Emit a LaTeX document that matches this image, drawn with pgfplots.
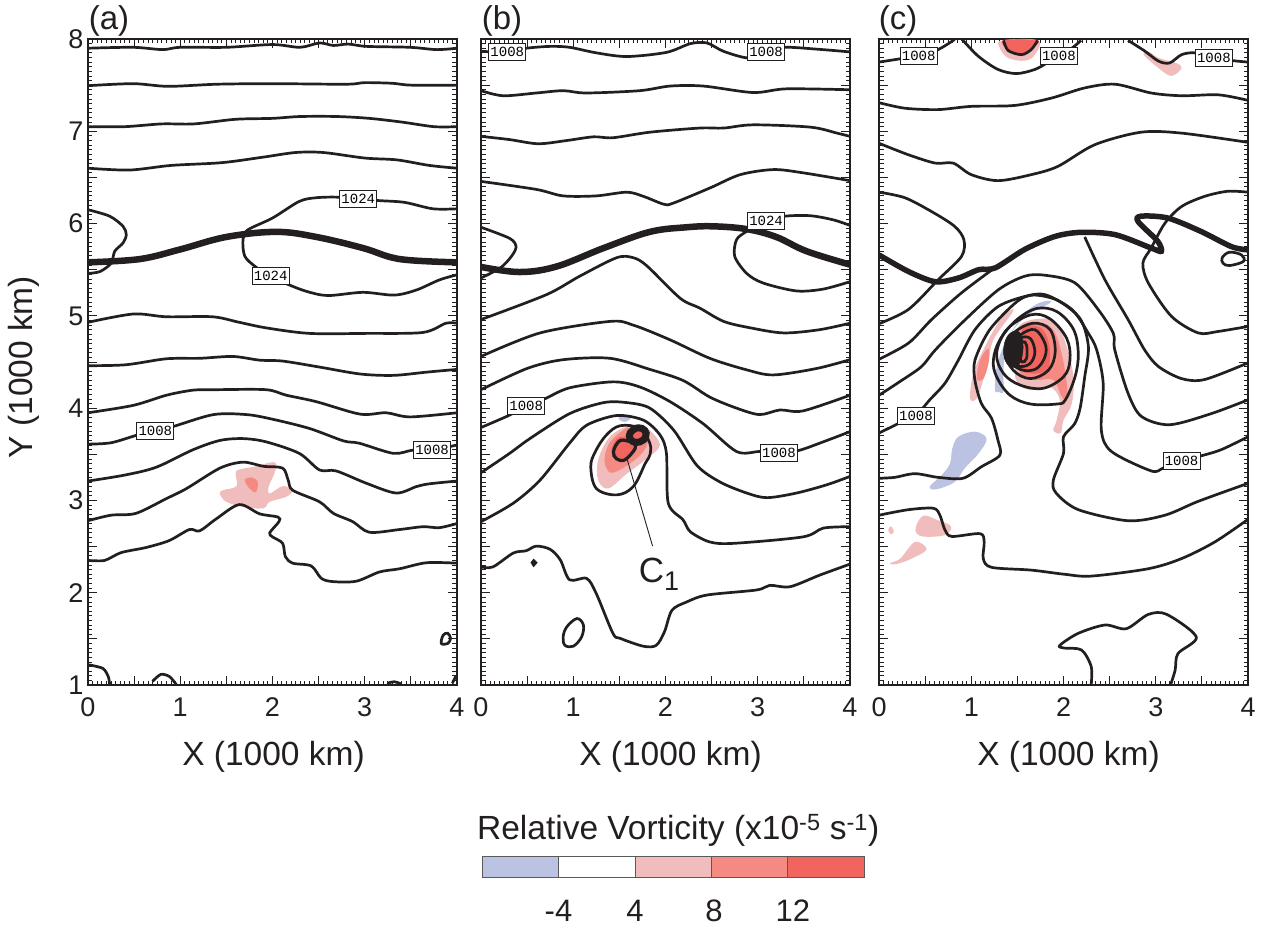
\documentclass[border=0pt]{standalone}
\usepackage{fontspec}
\setmainfont{Liberation Sans}
\newfontfamily\labfont{Liberation Mono}
\usepackage{pgfplots}
\pgfplotsset{compat=1.18}
\definecolor{k}{HTML}{231F20}
\definecolor{cb}{HTML}{BBC2E2}
\definecolor{cl}{HTML}{F1BCBC}
\definecolor{cm}{HTML}{F58A83}
\definecolor{cd}{HTML}{F2645E}
\tikzset{
  ct/.style={k,line width=2.7pt,smooth,tension=.5},
  ctc/.style={k,line width=2.7pt,smooth cycle,tension=.6},
  tk/.style={k,line width=6.5pt,smooth,tension=.6},
  fl/.style={fill=#1,draw=none,smooth cycle,tension=.6},
  lb/.style={draw=k,line width=.8pt,fill=white,inner sep=0pt,minimum width=37pt,minimum height=17pt,font=\labfont\fontsize{14}{15}\selectfont},
}
\pgfplotsset{
  panel/.style={
    scale only axis,width=369pt,height=646pt,
    xmin=0,xmax=4,ymin=1,ymax=8,
    axis line style={k,line width=1.3pt},
    tick style={k,line width=.8pt},
    major tick length=9pt,minor tick length=4.5pt,
    xtick={0,0.5,...,4},ytick={1,1.5,...,8},
    minor x tick num=9,minor y tick num=9,
    xticklabels={0,{},1,{},2,{},3,{},4},
    tick align=inside,
    tick label style={font=\fontsize{27}{30}\selectfont,text=k},
    xticklabel style={yshift=-9pt},
    yticklabel style={xshift=-1pt},
    xlabel={X (1000 km)},
    label style={font=\fontsize{33.5}{36}\selectfont,text=k},
    xlabel style={at={(axis description cs:0.5,0)},anchor=center,yshift=-72pt},
    clip=true,
  }
}
\begin{document}
\begin{tikzpicture}[x=1pt,y=1pt]
\path[use as bounding box] (0,0) rectangle (1263,927);

%======== (a)
\begin{axis}[panel,at={(88pt,242pt)},anchor=south west,
  xlabel style={xshift=1pt},
  yticklabels={1,{},2,{},3,{},4,{},5,{},6,{},7,{},8},
  ylabel={Y (1000 km)},ylabel style={at={(axis description cs:-0.173,0.492)},anchor=center}]
\addplot[fl=cl] coordinates {(1.43,3.07)(1.46,3.11)(1.61,3.155)(1.60,3.29)(1.64,3.335)(1.825,3.37)(1.97,3.41)(2.04,3.40)(2.02,3.29)(1.96,3.155)(1.97,3.075)(2.11,3.155)(2.215,3.11)(2.15,3.04)(1.97,2.985)(1.9,2.915)(1.68,2.93)(1.5,2.985)};
\addplot[fl=cm] coordinates {(1.70,3.22)(1.77,3.25)(1.84,3.20)(1.82,3.09)(1.75,3.13)};
\addplot[ct] coordinates {(0,7.9)(.49,7.91)(.81,7.885)(1,7.91)(1.5,7.91)(2,7.94)(2.3,7.91)(2.51,7.957)(2.66,7.93)(2.82,7.945)(3.02,7.92)(3.49,7.91)(3.78,7.885)(4,7.9)};
\addplot[ct] coordinates {(0,7.494)(.49,7.516)(.87,7.487)(1.4,7.51)(2,7.516)(2.8,7.51)(3,7.527)(3.3,7.52)(3.5,7.5)(4,7.5)};
\addplot[ct] coordinates {(0,7.05)(.4,7.05)(.8,7.08)(1.15,7.08)(1.6,7.13)(2,7.14)(2.3,7.16)(2.7,7.16)(3.05,7.14)(3.4,7.1)(3.75,7.05)(4,7.05)};
\addplot[ct] coordinates {(0,6.6)(.45,6.58)(.9,6.63)(1.45,6.66)(1.9,6.72)(2.25,6.77)(2.55,6.77)(3,6.71)(3.35,6.69)(3.7,6.63)(4,6.6)};
\addplot[ct] coordinates {(4,6.16)(3.74,6.16)(3.43,6.23)(3.14,6.25)(2.73,6.285)(2.475,6.28)(2.29,6.24)(2,6.06)(1.73,5.93)(1.68,5.825)(1.70,5.645)(1.825,5.525)(1.98,5.43)(2.17,5.34)(2.37,5.265)(2.6,5.22)(2.98,5.255)(3.32,5.225)(3.56,5.28)(3.81,5.39)(4,5.445)};
\addplot[ct] coordinates {(0,6.15)(.235,6.08)(.38,5.97)(.415,5.88)(.38,5.79)(.29,5.70)(.25,5.57)(.13,5.48)(0,5.46)};
\addplot[tk] coordinates {(0,5.58)(.56,5.615)(1,5.72)(1.5,5.855)(2.04,5.91)(2.475,5.855)(2.98,5.735)(3.38,5.615)(4,5.58)};
\addplot[ct] coordinates {(0,4.93)(.49,5.02)(.85,4.99)(1.35,4.99)(1.64,4.93)(1.93,4.87)(2.4,4.81)(3.02,4.81)(3.63,4.82)(3.88,4.92)(4,4.92)};
\addplot[ct] coordinates {(0,4.46)(.41,4.47)(.85,4.535)(1.21,4.54)(1.57,4.56)(1.86,4.52)(2.11,4.51)(2.51,4.445)(2.95,4.37)(3.31,4.355)(3.67,4.39)(4,4.42)};
\addplot[ct] coordinates {(0,3.95)(.49,4.03)(.85,4.14)(1.14,4.195)(1.39,4.2)(1.93,4.2)(2.15,4.14)(2.475,4.07)(2.95,3.935)(3.23,3.95)(3.49,3.905)(4,3.95)};
\addplot[ct] coordinates {(0,3.61)(.25,3.625)(.54,3.71)(.73,3.755)(.92,3.80)(1.36,3.93)(1.72,3.93)(2,3.88)(2.4,3.78)(2.77,3.645)(2.94,3.62)(3.31,3.51)(3.52,3.545)(3.73,3.55)(4,3.6)};
\addplot[ct] coordinates {(0,3.21)(.4,3.275)(.74,3.36)(1.14,3.55)(1.43,3.65)(1.68,3.67)(1.93,3.635)(2.29,3.51)(2.51,3.33)(2.69,3.32)(3.02,3.185)(3.34,3.08)(3.56,3.15)(3.7,3.18)(4,3.21)};
\addplot[ct] coordinates {(0,2.78)(.25,2.84)(.52,2.86)(.85,3.02)(1.07,3.13)(1.43,3.35)(1.68,3.415)(1.9,3.37)(2.11,3.35)(2.17,3.22)(2.22,3.11)(2.51,2.985)(2.66,2.86)(2.87,2.77)(3.05,2.655)(3.38,2.685)(3.63,2.715)(3.81,2.705)(4,2.75)};
\addplot[ct] coordinates {(0,2.35)(.18,2.35)(.36,2.435)(.63,2.49)(.88,2.565)(1.10,2.685)(1.21,2.67)(1.39,2.80)(1.64,2.955)(1.86,2.855)(2.06,2.82)(2.07,2.77)(1.97,2.65)(2.0,2.605)(2.11,2.535)(2.14,2.39)(2.22,2.32)(2.42,2.29)(2.53,2.155)(2.66,2.12)(2.91,2.125)(3.16,2.225)(3.38,2.26)(3.67,2.325)(4,2.32)};
\addplot[ctc] coordinates {(3.83,1.45)(3.85,1.54)(3.90,1.56)(3.93,1.505)(3.90,1.45)};
\addplot[ct] coordinates {(0,1.22)(.16,1.18)(.22,1.09)(.235,1.0)};
\addplot[ct] coordinates {(.70,1.04)(.79,1.115)(.885,1.09)(.96,1.0)};
\addplot[ct] coordinates {(3.25,1.02)(3.32,1.035)(3.40,1.01)};
\addplot[ct] coordinates {(3.95,1.02)(3.99,1.1)};
\node[lb] at (axis cs:2.93,6.27) {1024};
\node[lb] at (axis cs:1.98,5.43) {1024};
\node[lb] at (axis cs:.73,3.755) {1008};
\node[lb] at (axis cs:3.73,3.55) {1008};
\end{axis}

%======== (b)
\begin{axis}[panel,at={(481pt,242pt)},anchor=south west,xlabel style={xshift=5pt},yticklabels={}]
\addplot[fl=cb] coordinates {(1.49,3.89)(1.55,3.915)(1.62,3.89)(1.555,3.85)};
\addplot[fl=cl] coordinates {(1.525,3.78)(1.38,3.67)(1.27,3.44)(1.27,3.22)(1.38,3.13)(1.58,3.29)(1.80,3.455)(1.94,3.60)(1.83,3.76)(1.72,3.815)(1.615,3.80)};
\addplot[fl=cm] coordinates {(1.54,3.76)(1.40,3.635)(1.34,3.47)(1.36,3.35)(1.43,3.30)(1.615,3.40)(1.76,3.53)(1.81,3.67)(1.74,3.80)(1.615,3.79)};
\addplot[fl=cd] coordinates {(1.47,3.67)(1.415,3.545)(1.47,3.44)(1.615,3.48)(1.69,3.60)(1.65,3.67)(1.54,3.69)};
\addplot[ct] coordinates {(0,7.866)(.28,7.86)(.49,7.90)(.75,7.92)(.96,7.91)(1.25,7.85)(1.58,7.81)(2.01,7.855)(2.27,7.95)(2.45,7.957)(2.63,7.866)(2.9,7.794)(3.09,7.86)(3.29,7.91)(3.64,7.89)(4,7.86)};
\addplot[ct] coordinates {(0,7.44)(.24,7.385)(.6,7.415)(.89,7.44)(1.14,7.415)(1.72,7.44)(2.05,7.49)(2.41,7.49)(2.95,7.42)(3.31,7.46)(4,7.45)};
\addplot[ct] coordinates {(0,6.945)(.31,6.91)(.62,6.865)(.93,6.90)(1.22,6.94)(1.43,6.93)(1.83,6.99)(2.37,7.035)(2.63,7.035)(2.95,7.07)(3.57,7.045)(3.86,6.98)(4,6.945)};
\addplot[ct] coordinates {(0,6.457)(.6,6.37)(.89,6.30)(1.25,6.30)(1.58,6.34)(1.76,6.295)(1.98,6.21)(2.08,6.22)(2.48,6.385)(2.81,6.53)(3.17,6.585)(3.49,6.55)(4,6.465)};
\addplot[ct] coordinates {(4,5.98)(3.82,6.04)(3.57,6.085)(3.295,6.08)(3.09,6.03)(2.88,5.915)(2.77,5.825)(2.75,5.645)(2.88,5.46)(3.06,5.355)(3.42,5.27)(3.71,5.29)(4,5.37)};
\addplot[ct] coordinates {(0,5.96)(.31,5.84)(.38,5.75)(.33,5.645)(.21,5.52)(0,5.41)};
\addplot[tk] coordinates {(0,5.53)(.42,5.475)(.82,5.535)(1.33,5.735)(1.83,5.91)(2.23,5.96)(2.52,5.97)(2.88,5.94)(3.2,5.855)(3.53,5.70)(4,5.555)};
\addplot[ct] coordinates {(0,4.96)(.71,5.23)(1.07,5.43)(1.47,5.63)(1.65,5.63)(1.8,5.54)(2.16,5.19)(2.37,5.085)(2.63,4.94)(2.92,4.87)(3.28,4.815)(3.67,4.85)(4,4.92)};
\addplot[ct] coordinates {(0,4.56)(.64,4.815)(1.4,4.94)(1.65,4.90)(2.05,4.74)(2.48,4.54)(2.88,4.415)(3.17,4.36)(3.64,4.43)(4,4.525)};
\addplot[ct] coordinates {(0,4.2)(.5,4.43)(.89,4.525)(1.4,4.54)(1.83,4.42)(2.19,4.30)(2.48,4.12)(2.77,4.0)(3.02,3.93)(3.24,3.98)(3.49,3.97)(4,4.14)};
\addplot[ct] coordinates {(0,3.79)(.30,3.92)(.49,4.02)(.69,4.10)(.96,4.22)(1.43,4.285)(1.72,4.23)(2.05,4.07)(2.41,3.83)(2.77,3.53)(3.02,3.53)(3.23,3.52)(3.44,3.54)(3.71,3.635)(4,3.745)};
\addplot[ct] coordinates {(0,3.30)(.31,3.51)(.53,3.67)(.96,3.94)(1.33,4.06)(1.58,4.06)(1.83,4.0)(2.09,3.76)(2.34,3.38)(2.59,3.20)(2.88,3.08)(3.1,3.03)(3.42,3.08)(3.75,3.17)(4,3.26)};
\addplot[ct] coordinates {(0,2.77)(.35,2.97)(.64,3.22)(.96,3.62)(1.145,3.815)(1.47,3.92)(1.76,3.87)(1.94,3.71)(2.01,3.51)(2.03,2.97)(2.19,2.79)(2.27,2.66)(2.48,2.55)(2.74,2.535)(3.49,2.605)(3.71,2.70)(4,2.715)};
\addplot[ctc] coordinates {(1.83,3.62)(1.72,3.78)(1.51,3.81)(1.36,3.71)(1.24,3.53)(1.19,3.365)(1.25,3.13)(1.47,3.06)(1.65,3.15)(1.78,3.40)(1.83,3.49)};
\addplot[k,line width=3.2pt,smooth cycle,tension=.6] coordinates {(1.435,3.53)(1.51,3.65)(1.65,3.62)(1.67,3.56)(1.56,3.44)(1.47,3.45)};
\addplot[k,line width=7pt,fill=cd,smooth cycle,tension=.8] coordinates {(1.608,3.70)(1.644,3.76)(1.705,3.787)(1.774,3.76)(1.785,3.69)(1.724,3.635)(1.644,3.64)};
\addplot[ct] coordinates {(0,2.28)(.13,2.28)(.35,2.43)(.49,2.455)(.60,2.505)(.75,2.47)(.86,2.355)(.96,2.14)(1.145,2.155)(1.25,1.99)(1.43,1.56)(1.51,1.505)(1.76,1.42)(1.9,1.43)(1.99,1.58)(2.07,1.81)(2.23,1.90)(2.45,1.975)(2.99,2.03)(3.13,2.08)(3.35,2.065)(3.67,2.19)(4,2.31)};
\addplot[ctc] coordinates {(.89,1.52)(.93,1.63)(1.04,1.72)(1.11,1.65)(1.09,1.52)(1.0,1.42)(.91,1.43)};
\addplot[k,fill=k,line width=.5pt] coordinates {(.54,2.325)(.57,2.365)(.61,2.325)(.57,2.28)} -- cycle;
\addplot[k,line width=.9pt] coordinates {(1.586,3.44)(1.86,2.505)};
\node[font=\fontsize{35}{38}\selectfont,text=k] at (axis cs:1.93,2.2) {C\raisebox{-8pt}{\fontsize{27}{30}\selectfont 1}};
\node[lb] at (axis cs:.285,7.86) {1008};
\node[lb] at (axis cs:3.09,7.86) {1008};
\node[lb] at (axis cs:3.09,6.03) {1024};
\node[lb] at (axis cs:.49,4.02) {1008};
\node[lb] at (axis cs:3.23,3.52) {1008};
\end{axis}

%======== (c)
\begin{axis}[panel,at={(879pt,242pt)},anchor=south west,xlabel style={xshift=5pt},yticklabels={}]
% fills
\addplot[fl=cl] coordinates {(1.33,7.985)(1.31,7.90)(1.40,7.795)(1.58,7.765)(1.69,7.83)(1.725,7.985)};
\addplot[fl=cd] coordinates {(1.35,7.985)(1.40,7.875)(1.545,7.83)(1.65,7.885)(1.72,7.985)};
\addplot[fl=cl] coordinates {(2.87,7.83)(3.03,7.685)(3.17,7.60)(3.28,7.685)(3.22,7.74)(3.03,7.795)(2.92,7.865)};
\addplot[fl=cb] coordinates {(.55,3.15)(.68,3.275)(.77,3.40)(.794,3.56)(.86,3.69)(1.04,3.745)(1.166,3.67)(1.08,3.51)(.93,3.35)(.82,3.20)(.62,3.12)};
\addplot[fl=cl] coordinates {(.40,2.715)(.48,2.835)(.625,2.79)(.78,2.72)(.715,2.625)(.50,2.607)(.41,2.64)};
\addplot[fl=cl] coordinates {(.12,2.32)(.23,2.37)(.39,2.55)(.516,2.47)(.354,2.37)(.19,2.31)};
\addplot[fl=cl] coordinates {(.10,2.68)(.13,2.72)(.16,2.66)(.13,2.635)};
\addplot[fl=cl] coordinates {(1.51,4.88)(1.745,4.97)(1.926,4.92)(2.035,4.665)(2.107,4.34)(2.09,4.05)(2.0,3.87)(1.97,3.73)(1.89,3.76)(1.926,3.87)(1.96,4.09)(1.854,4.23)(1.67,4.196)(1.547,4.23)(1.475,4.34)(1.49,4.56)};
\addplot[fl=cm] coordinates {(1.53,4.864)(1.745,4.92)(1.89,4.846)(1.98,4.59)(2.035,4.27)(2.035,4.09)(1.98,4.124)(1.89,4.305)(1.71,4.305)(1.565,4.34)(1.51,4.485)};
\addplot[fl=cd] coordinates {(1.547,4.846)(1.73,4.88)(1.82,4.774)(1.854,4.59)(1.82,4.41)(1.64,4.376)(1.547,4.45)};
\addplot[fl=cl] coordinates {(.987,4.106)(1.023,4.376)(1.13,4.63)(1.31,4.955)(1.44,5.07)(1.44,5.027)(1.24,4.74)(1.186,4.485)(1.13,4.305)(1.06,4.106)};
\addplot[fl=cm] coordinates {(1.06,4.32)(1.095,4.52)(1.186,4.648)(1.186,4.485)(1.13,4.32)};
\addplot[fl=cb] coordinates {(1.258,4.196)(1.276,4.45)(1.366,4.70)(1.547,4.99)(1.71,5.128)(1.854,5.164)(1.836,5.128)(1.64,5.027)(1.456,4.846)(1.366,4.59)(1.348,4.376)(1.348,4.178)(1.294,4.178)};
% top contours
\addplot[ct] coordinates {(0,7.75)(.43,7.82)(.64,7.885)(.805,7.985)(.84,8.02)};
\addplot[ct] coordinates {(.88,8.02)(.91,7.985)(1.08,7.81)(1.29,7.67)(1.49,7.625)(1.69,7.67)(1.82,7.74)(1.95,7.82)(2.09,7.90)(2.19,7.985)};
\addplot[ct] coordinates {(2.70,7.985)(2.88,7.87)(3.03,7.76)(3.15,7.74)(3.28,7.83)(3.42,7.85)(3.63,7.80)(3.84,7.765)(4,7.75)};
\addplot[ct] coordinates {(1.35,7.985)(1.40,7.875)(1.545,7.83)(1.65,7.885)(1.72,7.985)};
\addplot[ct] coordinates {(0,7.31)(.28,7.25)(.64,7.235)(1.0,7.27)(1.47,7.28)(1.87,7.36)(2.23,7.47)(2.56,7.51)(2.95,7.415)(3.28,7.385)(3.68,7.395)(4,7.335)};
\addplot[ct] coordinates {(0,6.87)(.32,6.745)(.61,6.655)(.805,6.655)(1.0,6.53)(1.29,6.465)(1.65,6.53)(1.94,6.62)(2.34,6.855)(2.84,6.99)(3.28,6.98)(4,6.88)};
\addplot[ct] coordinates {(0,6.34)(.28,6.28)(.57,6.13)(.82,5.97)(.92,5.825)(.895,5.645)(.64,5.39)(.32,5.07)(0,4.915)};
\addplot[k,line width=5.5pt,smooth,tension=.5] coordinates {(0,5.66)(.32,5.48)(.61,5.37)(.86,5.41)(1.08,5.50)(1.26,5.52)(1.58,5.72)(1.906,5.86)(2.19,5.905)(2.56,5.88)(2.95,5.735)(3.06,5.70)(3.02,5.81)(2.81,6.02)(2.84,6.08)(3.13,6.06)(3.49,5.915)(3.82,5.75)(4,5.715)};
\addplot[ct] coordinates {(4,6.34)(3.78,6.35)(3.53,6.295)(3.28,6.185)(3.10,6.005)(2.95,5.735)(2.86,5.57)(2.92,5.355)(3.17,4.995)(3.46,4.815)(3.67,4.83)(4,4.885)};
\addplot[ctc] coordinates {(3.72,5.63)(3.80,5.69)(3.93,5.66)(3.95,5.59)(3.80,5.545)(3.73,5.57)};
\addplot[ct] coordinates {(0,4.53)(.32,4.705)(.57,4.96)(.895,5.25)(1.24,5.51)};
\addplot[ct] coordinates {(2.23,5.855)(2.45,5.39)(2.70,4.96)(2.88,4.63)(3.03,4.45)(3.28,4.32)(3.53,4.31)(4,4.49)};
\addplot[ct] coordinates {(0,4.14)(.245,4.30)(.46,4.45)(.61,4.63)(.895,4.92)(1.29,5.28)(1.58,5.43)(1.80,5.44)(2.12,5.36)(2.375,5.07)(2.54,4.81)(2.556,4.63)(2.70,4.16)(2.845,3.91)(3.15,3.82)(3.60,3.94)(4,4.09)};
\addplot[ct] coordinates {(0,3.73)(.245,3.85)(.40,3.92)(.55,4.09)(.715,4.27)(.86,4.52)(1.04,4.85)(1.29,5.10)(1.58,5.21)(1.80,5.23)(2.09,5.07)(2.27,4.81)(2.36,4.63)(2.43,4.27)(2.41,3.76)(2.52,3.53)(2.95,3.32)(3.08,3.35)(3.28,3.43)(3.48,3.48)(3.71,3.55)(4,3.69)};
\addplot[ct] coordinates {(0,3.24)(.17,3.25)(.39,3.29)(.64,3.25)(.91,3.24)(1.11,3.365)(1.31,3.49)(1.29,3.65)(1.22,3.89)(1.11,4.05)(1.04,4.30)(1.04,4.52)(1.20,4.85)(1.49,5.15)(1.67,5.225)(1.93,5.17)(2.18,4.97)(2.27,4.665)(2.23,4.34)(2.18,4.0)(2.12,3.83)(2.0,3.69)(2.0,3.51)(1.89,3.22)(1.92,3.08)(2.16,2.90)(2.70,2.78)(3.10,2.84)(3.46,2.99)(4,3.185)};
\addplot[ct] coordinates {(0,2.84)(.32,2.90)(.59,2.915)(.66,2.84)(.715,2.68)(.79,2.61)(1.095,2.64)(1.14,2.55)(1.13,2.37)(1.22,2.275)(1.65,2.245)(2.01,2.20)(2.30,2.18)(2.92,2.26)(3.28,2.37)(3.64,2.55)(4,2.795)};
\addplot[ct] coordinates {(2.30,1)(2.30,1.2)(2.195,1.38)(2.01,1.40)(1.96,1.43)(2.16,1.56)(2.45,1.65)(2.68,1.61)(2.92,1.765)(3.12,1.765)(3.44,1.52)(3.24,1.34)(3.21,1.16)(3.16,1)};
% cyclone rings
\addplot[ctc] coordinates {(1.24,4.52)(1.31,4.74)(1.49,4.955)(1.71,5.08)(1.93,5.045)(2.11,4.85)(2.16,4.59)(2.125,4.34)(2.02,4.09)(1.93,4.045)(1.64,4.045)(1.42,4.14)(1.275,4.34)};
\addplot[ctc] coordinates {(1.275,4.59)(1.385,4.85)(1.64,5.01)(1.85,4.97)(2.035,4.755)(2.07,4.52)(2.0,4.34)(1.78,4.215)(1.53,4.25)(1.35,4.375)};
\addplot[ctc] coordinates {(1.365,4.61)(1.456,4.81)(1.67,4.92)(1.855,4.85)(1.91,4.61)(1.836,4.41)(1.64,4.32)(1.456,4.41)};
\addplot[ctc] coordinates {(1.40,4.63)(1.53,4.79)(1.69,4.85)(1.80,4.70)(1.80,4.56)(1.71,4.43)(1.565,4.41)(1.44,4.485)};
\addplot[ctc] coordinates {(1.44,4.61)(1.53,4.755)(1.64,4.755)(1.69,4.61)(1.64,4.485)(1.53,4.45)(1.456,4.50)};
\addplot[fill=k,draw=k,line width=.5pt,smooth cycle,tension=.7] coordinates {(1.35,4.63)(1.40,4.79)(1.51,4.83)(1.56,4.70)(1.54,4.52)(1.475,4.44)(1.385,4.485)};
\addplot[ctc] coordinates {(1.52,4.61)(1.56,4.72)(1.60,4.68)(1.60,4.54)(1.55,4.50)};
\node[lb] at (axis cs:.43,7.82) {1008};
\node[lb] at (axis cs:1.95,7.82) {1008};
\node[lb] at (axis cs:3.63,7.80) {1008};
\node[lb] at (axis cs:.40,3.92) {1008};
\node[lb] at (axis cs:3.28,3.43) {1008};
\end{axis}

% panel letters
\node[font=\fontsize{33}{36}\selectfont,text=k] at (109,906) {(a)};
\node[font=\fontsize{33}{36}\selectfont,text=k] at (502,906) {(b)};
\node[font=\fontsize{33}{36}\selectfont,text=k] at (898,906) {(c)};

%======== colour bar
\begin{axis}[scale only axis,width=382.3pt,height=21.3pt,at={(482pt,49.7pt)},anchor=south west,
  xmin=0,xmax=5,ymin=0,ymax=1,ytick=\empty,
  xtick={1,2,3,4},xticklabels={-4,4,{\hspace{5pt}8},{\hspace{10pt}12}},
  xtick style={draw=none},
  axis line style={draw=gray!60!k,line width=.9pt},
  tick label style={font=\fontsize{31}{34}\selectfont,text=k},
  xticklabel style={yshift=-19pt},
  title={Relative Vorticity (x10\textsuperscript{-5} s\textsuperscript{-1})},
  title style={font=\fontsize{33.5}{36}\selectfont,text=k,yshift=0pt,xshift=5pt}]
\addplot[fill=cb,draw=gray!60!k,line width=.8pt] coordinates {(0,0)(0,1)(1,1)(1,0)} -- cycle;
\addplot[fill=white,draw=gray!60!k,line width=.8pt] coordinates {(1,0)(1,1)(2,1)(2,0)} -- cycle;
\addplot[fill=cl,draw=gray!60!k,line width=.8pt] coordinates {(2,0)(2,1)(3,1)(3,0)} -- cycle;
\addplot[fill=cm,draw=gray!60!k,line width=.8pt] coordinates {(3,0)(3,1)(4,1)(4,0)} -- cycle;
\addplot[fill=cd,draw=gray!60!k,line width=.8pt] coordinates {(4,0)(4,1)(5,1)(5,0)} -- cycle;
\end{axis}
\end{tikzpicture}
\end{document}
